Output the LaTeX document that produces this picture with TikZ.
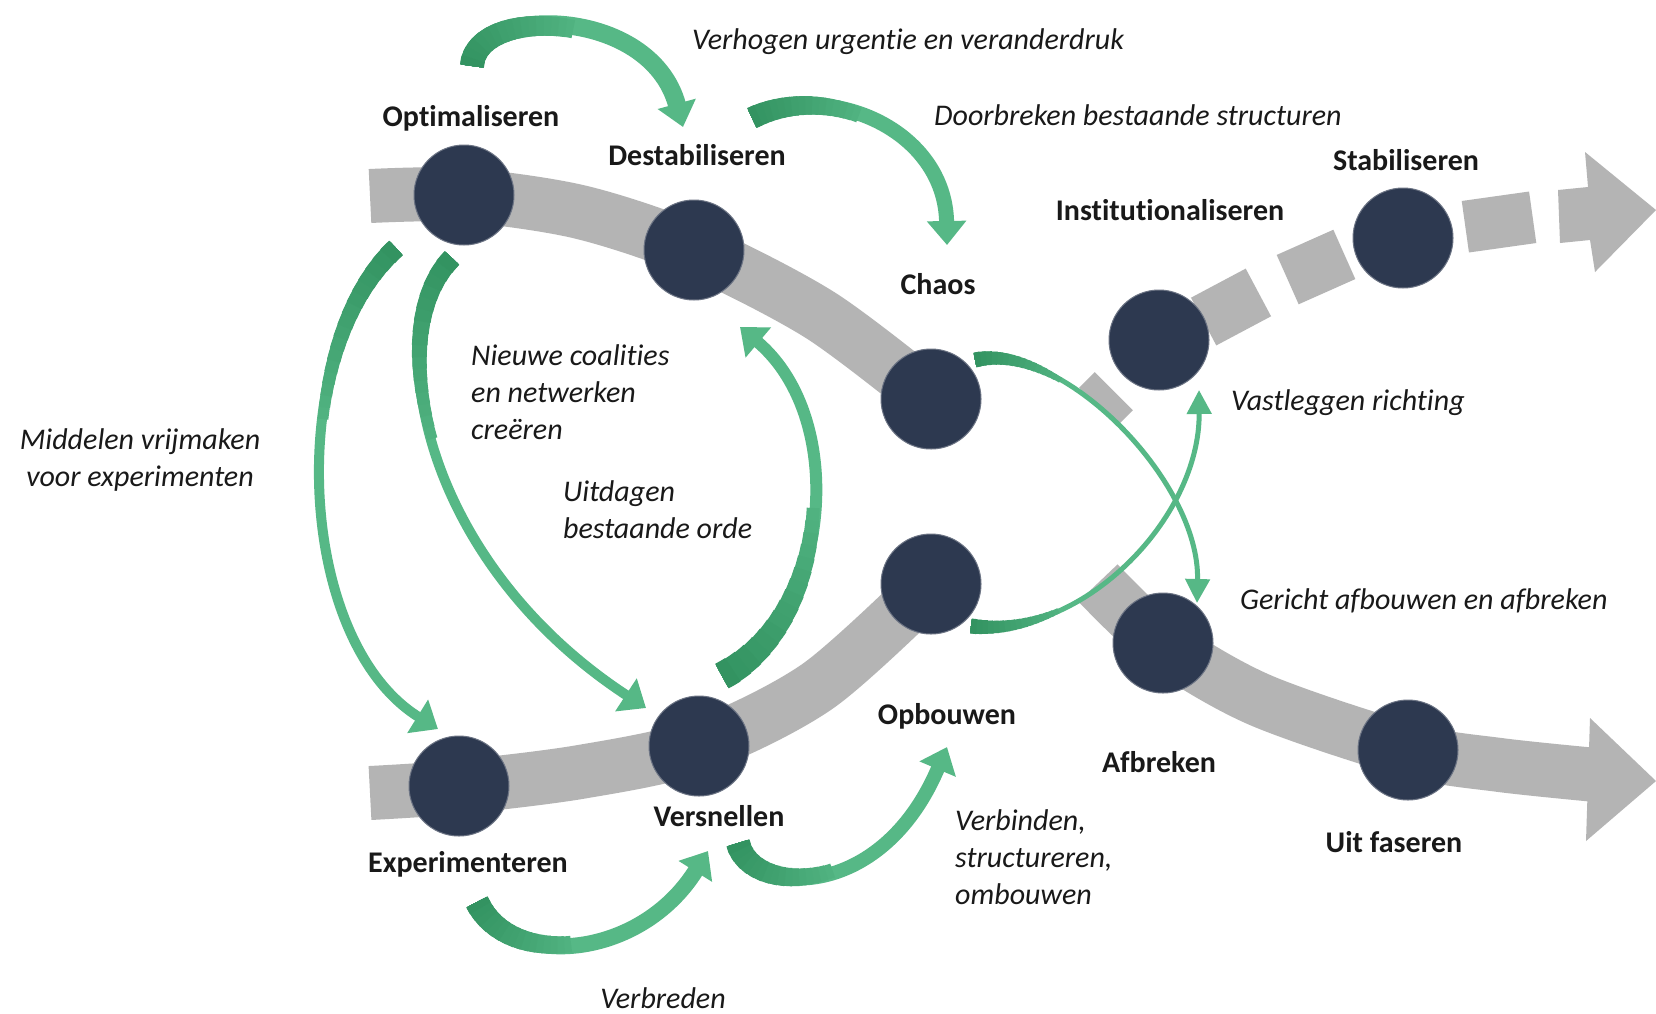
\documentclass[tikz,border=0pt]{standalone}
\usepackage{fontspec}
\setmainfont{Carlito}[Ligatures={NoCommon}]
\usetikzlibrary{arrows.meta}
\definecolor{navy}{RGB}{45,57,80}
\definecolor{bandgray}{RGB}{180,180,180}
\definecolor{grn}{RGB}{86,184,134}
\definecolor{grnd}{RGB}{42,138,88}
\definecolor{txt}{RGB}{25,25,25}
% tapered, darker tail overlay: #1 path, #2 base width, #3 tail width, #4 length
\newcommand\taperTail[4]{%
  \foreach \k in {1,...,16}{%
    \pgfmathsetmacro\ww{#2+(#3-#2)*\k/16}%
    \pgfmathsetmacro\ll{#4*(17-\k)/16}%
    \pgfmathtruncatemacro\cc{10+70*\k/16}%
    \draw[draw=grnd!\cc!grn, line width=\ww pt, line cap=butt, dash pattern=on \ll pt off 6000pt] #1;
  }}
\begin{document}
\begin{tikzpicture}[x=1pt,y=-1pt,
  stage/.style={circle, fill=navy, draw=navy!70!white, line width=1pt, minimum size=100pt, inner sep=0pt},
  bandline/.style={draw=bandgray, line width=54pt, line cap=butt},
  piece/.style={rectangle, fill=bandgray, inner sep=0pt},
  stlabel/.style={font=\fontsize{30}{36}\selectfont\bfseries, text=txt, inner sep=0pt},
  note/.style={font=\fontsize{30}{37}\selectfont\itshape, text=txt, inner sep=0pt, align=left},
  garrow/.style={draw=grn, line width=#1, line cap=butt},
  bighead/.style={-{Triangle[width=38pt,length=24pt]}},
  thinhead/.style={-{Triangle[width=24pt,length=24pt]}}
]
\fill[white] (0,0) rectangle (1656,1013);
\useasboundingbox (0,0) rectangle (1656,1013);

% gray bands
\draw[bandline] plot[smooth] coordinates {(370,196) (464,195) (580,212) (694,250) (820,315) (931,399)};
\draw[bandline] plot[smooth] coordinates {(370,793) (459,787) (580,772) (699,746) (818,686) (931,584)};
\draw[bandline] plot[smooth] coordinates {(1098,583) (1163,644) (1260,700) (1408,750) (1500,765) (1596,775)};
\fill[bandgray] (1590,718) -- (1656,781) -- (1586,841) -- cycle;
% dashed upper-right band
\node[piece, minimum width=22pt, minimum height=54pt, rotate=45] (d0) at (1106,399) {};
\node[piece, minimum width=62pt, minimum height=54pt, rotate=28] (d1) at (1231,307) {};
\node[piece, minimum width=62pt, minimum height=54pt, rotate=24] (d2) at (1316,267) {};
\node[piece, minimum width=68pt, minimum height=52pt, rotate=8] (d3) at (1499,222) {};
\fill[bandgray] (1558,190) -- (1588,187) -- (1585,152) -- (1656,210) -- (1595,272) -- (1590,240) -- (1560,243) -- cycle;

% stage circles
\node[stage] (opt) at (464,195) {};
\node[stage] (des) at (694,250) {};
\node[stage] (cha) at (931,399) {};
\node[stage] (opb) at (931,584) {};
\node[stage] (exp) at (459,786) {};
\node[stage] (ver) at (699,746) {};
\node[stage] (ins) at (1159,340) {};
\node[stage] (sta) at (1403,238) {};
\node[stage] (afb) at (1163,643) {};
\node[stage] (uit) at (1408,750) {};

% stage labels
\node[stlabel] (optL) at (471,118) {Optimaliseren};
\node[stlabel] (desL) at (697,155) {Destabiliseren};
\node[stlabel] (chaL) at (938,284) {Chaos};
\node[stlabel] (insL) at (1170,210) {Institutionaliseren};
\node[stlabel] (staL) at (1406,160) {Stabiliseren};
\node[stlabel] (opbL) at (947,716) {Opbouwen};
\node[stlabel] (afbL) at (1159,762) {Afbreken};
\node[stlabel] (verL) at (719,816) {Versnellen};
\node[stlabel] (expL) at (468,864) {Experimenteren};
\node[stlabel] (uitL) at (1394,842) {Uit faseren};

% notes
\node[note, anchor=west] (n1) at (692,42) {Verhogen urgentie en veranderdruk};
\node[note, anchor=west] (n2) at (934,115) {Doorbreken bestaande structuren};
\node[note, anchor=west] (n3) at (471,392) {Nieuwe coalities\\en netwerken\\creëren};
\node[note, align=center] (n4) at (140,460) {Middelen vrijmaken\\voor experimenten};
\node[note, anchor=west] (n5) at (563,510) {Uitdagen\\bestaande orde};
\node[note, anchor=west] (n6) at (1231,403) {Vastleggen richting};
\node[note, anchor=west] (n7) at (1240,601) {Gericht afbouwen en afbreken};
\node[note, anchor=west] (n8) at (955,857) {Verbinden,\\structureren,\\ombouwen};
\node[note] (n9) at (663,998) {Verbreden};

% green arrow end points
\coordinate (aS) at (472,66);   \coordinate (aE) at (683,127);
\coordinate (bS) at (752,118);  \coordinate (bE) at (947,245);
\coordinate (cS) at (396,248);  \coordinate (cE) at (438,729);
\coordinate (dS) at (452,258);  \coordinate (dE) at (646,708);
\coordinate (eS) at (722,676);  \coordinate (eE) at (740,327);
\coordinate (fS) at (477,902);  \coordinate (fE) at (708,851);
\coordinate (gS) at (738,843);  \coordinate (gE) at (947,747);
\coordinate (hS) at (975,360);  \coordinate (hE) at (1197,603);
\coordinate (iS) at (971,626);  \coordinate (iE) at (1199,390);

\draw[garrow=18pt, bighead] (aS) .. controls (475,5) and (650,5) .. (aE);
\taperTail{(aS) .. controls (475,5) and (650,5) .. (aE)}{18}{24}{120}
\draw[garrow=15pt, bighead] (bS) .. controls (830,80) and (945,130) .. (bE);
\taperTail{(bS) .. controls (830,80) and (945,130) .. (bE)}{15}{22}{110}
\draw[garrow=10pt, bighead] (cS) .. controls (285,350) and (295,640) .. (cE);
\taperTail{(cS) .. controls (285,350) and (295,640) .. (cE)}{10}{20}{190}
\draw[garrow=10pt, bighead] (dS) .. controls (380,330) and (420,560) .. (dE);
\taperTail{(dS) .. controls (380,330) and (420,560) .. (dE)}{10}{20}{190}
\draw[garrow=12pt, bighead] (eS) .. controls (830,620) and (850,420) .. (eE);
\taperTail{(eS) .. controls (830,620) and (850,420) .. (eE)}{12}{28}{200}
\draw[garrow=16pt, bighead] (fS) .. controls (510,970) and (640,960) .. (fE);
\taperTail{(fS) .. controls (510,970) and (640,960) .. (fE)}{16}{24}{110}
\draw[garrow=14pt, bighead] (gS) .. controls (750,895) and (880,905) .. (gE);
\taperTail{(gS) .. controls (750,895) and (880,905) .. (gE)}{14}{24}{110}
\draw[garrow=5pt, thinhead] (hS) .. controls (1060,340) and (1200,480) .. (hE);
\taperTail{(hS) .. controls (1060,340) and (1200,480) .. (hE)}{5}{15}{90}
\draw[garrow=5pt, thinhead] (iS) .. controls (1080,640) and (1200,520) .. (iE);
\taperTail{(iS) .. controls (1080,640) and (1200,520) .. (iE)}{5}{15}{90}
\end{tikzpicture}
\end{document}
